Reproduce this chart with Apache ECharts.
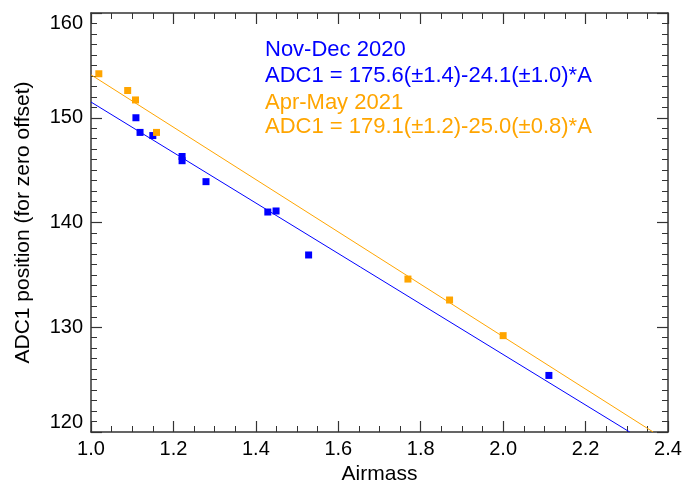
<!DOCTYPE html>
<html>
<head>
<meta charset="utf-8">
<script src="https://cdn.jsdelivr.net/npm/echarts@6/dist/echarts.min.js"></script>
<style>
  html, body { margin: 0; padding: 0; background: #fff; }
  #chart { width: 685px; height: 486px; }
</style>
</head>
<body>
<div id="chart"></div>
<script>
// measured points, [airmass, ADC1 position]
const novDecPoints = [
  [1.109, 150.0], [1.119, 148.6], [1.150, 148.3], [1.221, 146.3], [1.221, 145.9],
  [1.279, 143.9], [1.429, 141.0], [1.449, 141.1], [1.528, 136.9], [2.111, 125.4]
];
const aprMayPoints = [
  [1.019, 154.2], [1.089, 152.6], [1.108, 151.7], [1.159, 148.6],
  [1.769, 134.6], [1.870, 132.6], [2.000, 129.2]
];
// fit lines, end points
const novDecFit = [[1.0, 151.5], [2.307, 120.0]];
const aprMayFit = [[1.0, 154.1], [2.364, 120.0]];

const legendLines = [
  'Nov-Dec 2020',
  'ADC1 = 175.6(\u00b11.4)-24.1(\u00b11.0)*A',
  'Apr-May 2021',
  'ADC1 = 179.1(\u00b11.2)-25.0(\u00b10.8)*A'
];

const BLUE = '#0000ff';
const ORANGE = '#ffa500';
const AXIS = '#333';
const FONT = '"Liberation Sans", Arial, Helvetica, sans-serif';

const chart = echarts.init(document.getElementById('chart'));

function frameAxis(extra) {
  return Object.assign({
    type: 'value',
    axisLine: { show: true, onZero: false, lineStyle: { color: AXIS, width: 1.5 } },
    axisTick: { show: true, inside: true, length: 11, lineStyle: { color: AXIS, width: 1.2 } },
    minorTick: { show: true, length: 6, lineStyle: { color: AXIS, width: 1 } },
    splitLine: { show: false },
    axisLabel: { show: false }
  }, extra);
}

const legendColors = [BLUE, BLUE, ORANGE, ORANGE];
const legendTops = [39, 65, 92, 116];

chart.setOption({
  animation: false,
  backgroundColor: '#fff',
  grid: { left: 91, right: 17, top: 13, bottom: 54, containLabel: false, outerBoundsMode: 'none' },
  xAxis: [
    frameAxis({
      min: 1.0, max: 2.4, interval: 0.2,
      minorTick: { show: true, splitNumber: 4, length: 6, lineStyle: { color: AXIS, width: 1 } },
      name: 'Airmass', nameLocation: 'middle', nameGap: 32,
      nameTextStyle: { color: '#000', fontSize: 21, fontFamily: FONT },
      axisLabel: {
        show: true, margin: 7, color: '#000', fontSize: 20, fontFamily: FONT,
        formatter: v => v.toFixed(1)
      }
    }),
    frameAxis({
      position: 'top', min: 1.0, max: 2.4, interval: 0.2,
      minorTick: { show: true, splitNumber: 4, length: 6, lineStyle: { color: AXIS, width: 1 } }
    })
  ],
  yAxis: [
    frameAxis({
      min: 120, max: 160, interval: 10,
      minorTick: { show: true, splitNumber: 10, length: 6, lineStyle: { color: AXIS, width: 1 } },
      name: 'ADC1 position (for zero offset)', nameLocation: 'middle', nameGap: 57,
      nameTextStyle: { color: '#000', fontSize: 21, fontFamily: FONT },
      axisLabel: {
        show: true, margin: 8, color: '#000', fontSize: 20, fontFamily: FONT,
        verticalAlignMinLabel: 'bottom', verticalAlignMaxLabel: 'top'
      }
    }),
    frameAxis({
      position: 'right', min: 120, max: 160, interval: 10,
      minorTick: { show: true, splitNumber: 10, length: 6, lineStyle: { color: AXIS, width: 1 } }
    })
  ],
  series: [
    {
      type: 'line', data: novDecFit, symbol: 'none', clip: true,
      lineStyle: { color: BLUE, width: 1 }, z: 2
    },
    {
      type: 'line', data: aprMayFit, symbol: 'none', clip: true,
      lineStyle: { color: ORANGE, width: 1 }, z: 2
    },
    {
      type: 'scatter', data: novDecPoints, symbol: 'rect', symbolSize: 7,
      itemStyle: { color: BLUE, opacity: 1 }, z: 3
    },
    {
      type: 'scatter', data: aprMayPoints, symbol: 'rect', symbolSize: 7,
      itemStyle: { color: ORANGE, opacity: 1 }, z: 3
    }
  ],
  graphic: legendLines.map((t, i) => ({
    type: 'text',
    left: 265,
    top: legendTops[i],
    style: { text: t, fill: legendColors[i], fontSize: 22, fontFamily: FONT }
  }))
});
</script>
</body>
</html>
